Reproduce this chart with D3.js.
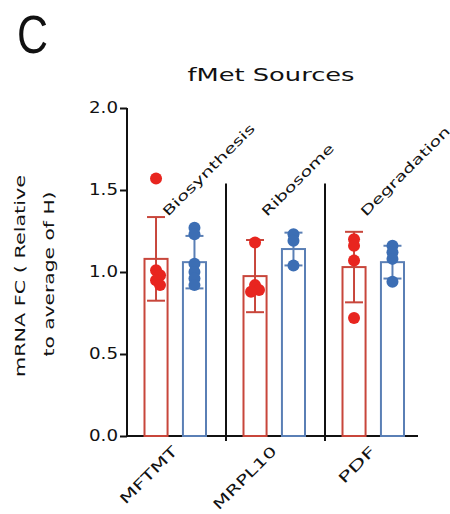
<html>
<head>
    <meta charset="utf-8">
    <title>fMet Sources</title>
    <script src="https://d3js.org/d3.v7.min.js" type="text/javascript"></script>
    <style type="text/css">
        body { margin: 0; background: #fff; }
        text { font-family: "DejaVu Sans", sans-serif; fill: #111; }
        .axis path, .axis line { stroke: #111; stroke-width: 2px; }
        .bar { fill: none; stroke-width: 2px; }
    </style>
</head>
<body>
<div id="graph"></div>

<script type="text/javascript">
    var genes = ["MFTMT", "MRPL10", "PDF"];
    var pathways = ["Biosynthesis", "Ribosome", "Degradation"];
    var groups = ["H", "P"];
    var yTicks = [0, 0.5, 1.0, 1.5, 2.0];

    // bar heights and error bars
    var meanH = [1.08, 0.975, 1.03];
    var sdH = [0.255, 0.22, 0.215];
    var meanP = [1.06, 1.14, 1.06];
    var sdP = [0.16, 0.1, 0.1];

    // individual dots
    var pointsH = [[1.57, 1.01, 0.98, 0.95, 0.92], [1.18, 0.92, 0.89, 0.88], [1.20, 1.16, 1.07, 0.72]];
    var pointsP = [[1.27, 1.23, 1.05, 1.00, 0.96, 0.92], [1.23, 1.19, 1.04], [1.16, 1.12, 1.08, 0.94]];

    var dotColor = {H: "#e8251f", P: "#3c6eb4"};
    var lineColor = {H: "#c8463b", P: "#5a7fb5"};

    // stretched label lengths (the figure font is wide)
    var geneLen = [75, 83, 46];
    var pathLen = [124, 96, 120];

    var width = 450, height = 514;
    var svg = d3.select("#graph").append("svg")
        .attr("width", width).attr("height", height);

    var y = d3.scaleLinear().domain([0, 2]).range([436, 108]);
    var x = d3.scaleBand().domain(genes).range([127, 424]);
    var xSub = d3.scaleBand().domain(groups).range([17.5, 79]).paddingInner(0.4);

    // panel letter and title
    svg.append("text").attr("x", 17).attr("y", 53)
        .style("font-family", "Liberation Sans").style("font-size", "54px")
        .attr("textLength", 31).attr("lengthAdjust", "spacingAndGlyphs").text("C");
    svg.append("text").attr("x", 271).attr("y", 81).attr("text-anchor", "middle")
        .style("font-size", "18px")
        .attr("textLength", 167).attr("lengthAdjust", "spacingAndGlyphs").text("fMet Sources");

    // y axis
    var yAxis = svg.append("g").attr("class", "axis")
        .attr("transform", "translate(127,0)")
        .call(d3.axisLeft(y).tickValues(yTicks).tickFormat(d3.format(".1f")).tickSize(7).tickPadding(2).tickSizeOuter(0));
    yAxis.select(".domain").attr("d", "M0," + y(2) + "V" + y(0));
    yAxis.selectAll("text").style("font-size", "15px").style("font-family", "DejaVu Sans")
        .attr("textLength", 29).attr("lengthAdjust", "spacingAndGlyphs").attr("fill", "#111");

    var ylab = [["mRNA FC ( Relative", 25, 276, 202], ["to average of H)", 54, 274, 165]];
    ylab.forEach(function (l) {
        svg.append("text")
            .attr("transform", "translate(" + l[1] + "," + l[2] + ") rotate(-90)")
            .attr("text-anchor", "middle").style("font-size", "14px")
            .attr("textLength", l[3]).attr("lengthAdjust", "spacingAndGlyphs").text(l[0]);
    });

    // x axis line, separators and their ticks
    svg.append("line").attr("x1", 127).attr("x2", 418).attr("y1", y(0)).attr("y2", y(0))
        .style("stroke", "#111").style("stroke-width", 2);
    genes.slice(1).forEach(function (g) {
        svg.append("line").attr("x1", x(g)).attr("x2", x(g))
            .attr("y1", y(1.54)).attr("y2", y(0) + 5)
            .style("stroke", "#111").style("stroke-width", 2);
    });

    // bars, error bars, dots
    genes.forEach(function (g, i) {
        var sets = [
            {grp: "H", mean: meanH[i], sd: sdH[i], pts: pointsH[i]},
            {grp: "P", mean: meanP[i], sd: sdP[i], pts: pointsP[i]}
        ];
        sets.forEach(function (s) {
            var bx = x(g) + xSub(s.grp), bw = xSub.bandwidth(), cx = bx + bw / 2;
            svg.append("rect").attr("class", "bar")
                .attr("x", bx).attr("y", y(s.mean))
                .attr("width", bw).attr("height", y(0) - y(s.mean))
                .style("stroke", lineColor[s.grp]);
            var eb = svg.append("g").style("stroke", lineColor[s.grp]).style("stroke-width", 2);
            eb.append("line").attr("x1", cx).attr("x2", cx)
                .attr("y1", y(s.mean - s.sd)).attr("y2", y(s.mean + s.sd));
            [s.mean - s.sd, s.mean + s.sd].forEach(function (v) {
                eb.append("line").attr("x1", cx - 9).attr("x2", cx + 9)
                    .attr("y1", y(v)).attr("y2", y(v));
            });

            // simple swarm so overlapping dots spread a little sideways
            var placed = [];
            s.pts.slice().sort(d3.descending).forEach(function (v) {
                var py = y(v), offs = [0, 4, -4, 7, -7], px = cx;
                for (var k = 0; k < offs.length; k++) {
                    var ok = placed.every(function (p) {
                        return Math.hypot(p[0] - (cx + offs[k]), p[1] - py) > 5;
                    });
                    if (ok) { px = cx + offs[k]; break; }
                }
                placed.push([px, py]);
                svg.append("circle").attr("cx", px).attr("cy", py).attr("r", 6)
                    .style("fill", dotColor[s.grp]);
            });
        });

        // gene label under the axis
        svg.append("text")
            .attr("transform", "translate(" + (x(g) + x.bandwidth() / 2 + 2) + ",452) rotate(-45)")
            .attr("text-anchor", "end").style("font-size", "14px")
            .attr("textLength", geneLen[i]).attr("lengthAdjust", "spacingAndGlyphs")
            .text(g);

        // pathway label above the bars
        svg.append("text")
            .attr("transform", "translate(" + (x(g) + 41) + ",217) rotate(-45)")
            .style("font-size", "13px")
            .attr("textLength", pathLen[i]).attr("lengthAdjust", "spacingAndGlyphs")
            .text(pathways[i]);
    });
</script>
</body>
</html>
